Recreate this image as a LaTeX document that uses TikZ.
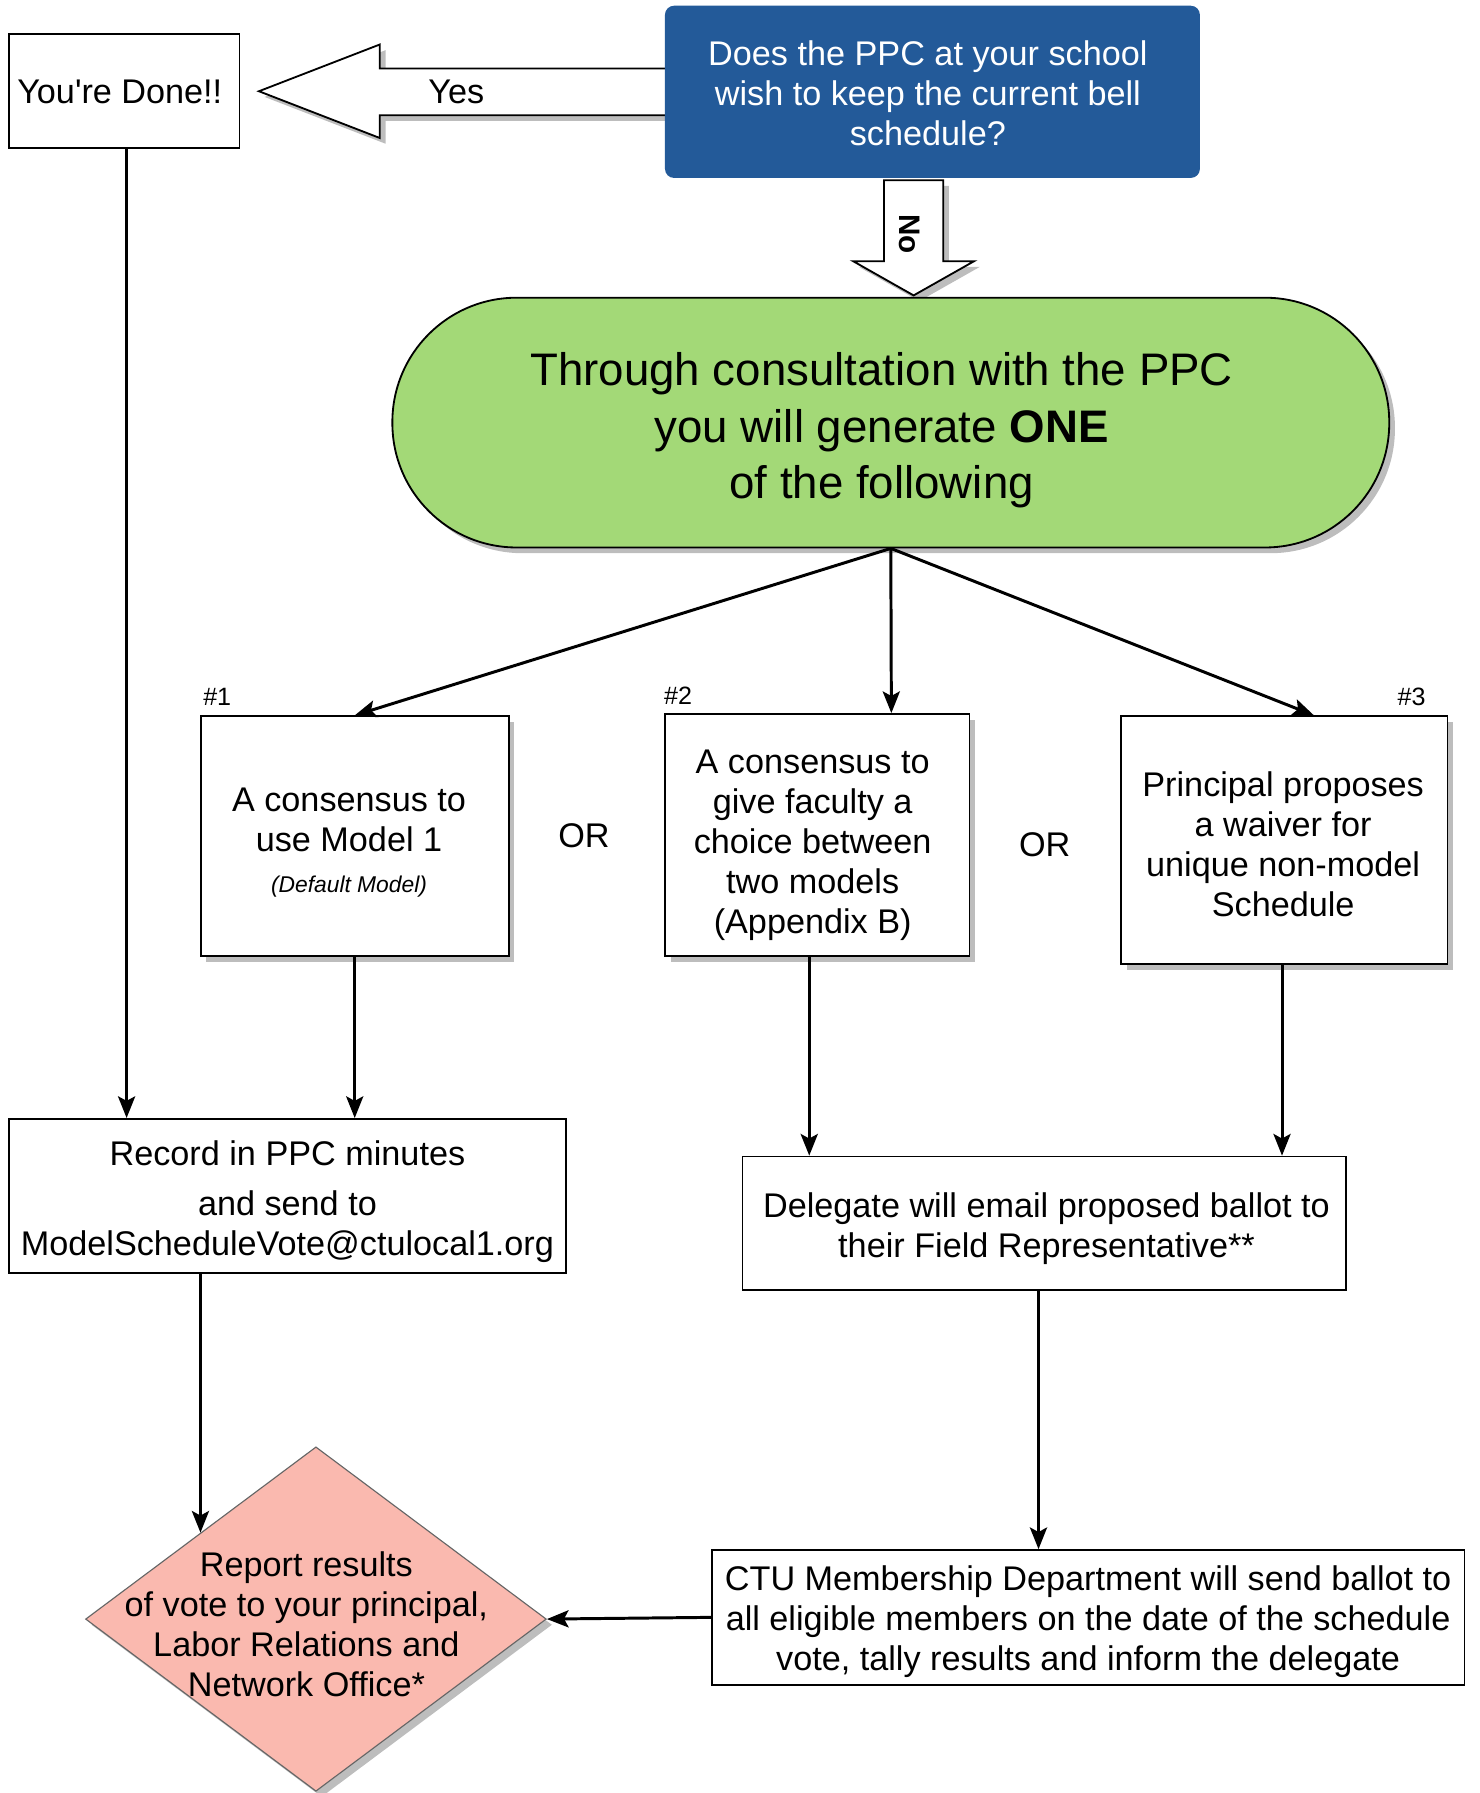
\documentclass[tikz,border=0pt]{standalone}
\usepackage{fontspec}
\setmainfont{Liberation Sans}
\newfontfamily\nomapfont{Liberation Sans}[Ligatures=TeXOff]
\usetikzlibrary{shapes.geometric,arrows.meta,shadows,calc}
\definecolor{qblue}{HTML}{235A99}
\definecolor{tgreen}{HTML}{A3D977}
\definecolor{rsalmon}{HTML}{FAB9AF}
\definecolor{shd}{HTML}{BDBDBD}
\begin{document}
\begin{tikzpicture}[x=1pt,y=-1pt,
  txt/.style={font=\fontsize{30}{35}\selectfont, align=center, inner sep=0pt},
  boxs/.style={draw, line width=1.6pt, fill=white, inner sep=0pt},
  shad/.style={drop shadow={shadow xshift=5pt, shadow yshift=-5pt, fill=shd, opacity=1}},
  conn/.style={line width=2.6pt, -{Stealth[length=19pt,width=15pt,inset=4pt]}},
  hlabel/.style={font=\fontsize{22}{26}\selectfont, inner sep=0pt},
]
\useasboundingbox (0,0) rectangle (1297,1572);

% Yes arrow (hollow block arrow)
\draw[line width=1.6pt, fill=white, shad, line join=miter]
  (595,60) -- (333,60) -- (333,39) -- (227,80) -- (333,121) -- (333,101) -- (595,101) -- cycle;

% question box
\node[fill=qblue, rounded corners=8pt, minimum width=469pt, minimum height=151pt, inner sep=0pt]
  (q) at (817.5,80.5) {};
\node[txt, text=white] (qt) at ($(q)+(-4,1.5)$) {Does the PPC at your school\\wish to keep the current bell\\schedule?};

\node[txt] (yes) at (400,81) {Yes};

% No arrow (hollow block arrow)
\draw[line width=1.6pt, fill=white, shad, line join=miter]
  (775,158) -- (827,158) -- (827,229) -- (854,229) -- (801,259) -- (748,229) -- (775,229) -- cycle;
\node[font=\fontsize{26}{30}\selectfont\bfseries, rotate=-90, inner sep=0pt] (no) at (797,205) {No};

% You're Done
\node[boxs, minimum width=202pt, minimum height=100pt] (done) at (109,80) {};
\node[txt] (donet) at ($(done)+(-4,1)$) {\nomapfont You're Done!!};

% green terminator
\node[draw, line width=1.6pt, fill=tgreen, rounded corners=109pt, minimum width=874pt,
  minimum height=219pt, inner sep=0pt, shad] (g) at (781,370.5) {};
\node[txt, font=\fontsize{40}{49.5}\selectfont] (gt) at ($(g)+(-8,7)$)
  {Through consultation with the PPC\\you will generate \textbf{ONE}\\of the following};

% three options
\node[boxs, shad, minimum width=270pt, minimum height=210pt] (box1) at (311,733) {};
\node[txt] (box1t) at ($(box1)+(-5,6)$)
  {A consensus to\\use Model 1\\[1pt]{\fontsize{20}{24}\selectfont\itshape (Default Model)}};
\node[boxs, shad, minimum width=267pt, minimum height=212pt] (box2) at (716.5,732) {};
\node[txt] (box2t) at ($(box2)+(-4,9)$)
  {A consensus to\\give faculty a\\choice between\\two models\\(Appendix B)};
\node[boxs, shad, minimum width=286pt, minimum height=217pt] (box3) at (1126,736.5) {};
\node[txt] (box3t) at ($(box3)+(-1,4)$)
  {Principal proposes\\a waiver for\\unique non-model\\Schedule};

\node[hlabel, anchor=west] (h1) at (178,611) {\#1};
\node[hlabel, anchor=west] (h2) at (582,610) {\#2};
\node[hlabel, anchor=east] (h3) at (1250,611) {\#3};

\node[txt] (or1) at (512,733) {OR};
\node[txt] (or2) at (916,741) {OR};

% record box
\node[boxs, minimum width=488pt, minimum height=135pt] (rec) at (252,1048.5) {};
\node[txt] (rect) at ($(rec)+(0,5)$)
  {Record in PPC minutes\\[9pt]and send to\\ModelScheduleVote@ctulocal1.org};

% delegate box
\node[boxs, minimum width=529pt, minimum height=117pt] (del) at (915.5,1072.5) {};
\node[txt] (delt) at ($(del)+(2,5)$)
  {Delegate will email proposed ballot to\\their Field Representative**};

% CTU box
\node[boxs, minimum width=660pt, minimum height=118pt] (ctu) at (954,1418) {};
\node[txt] (ctut) at ($(ctu)+(0,4)$)
  {CTU Membership Department will send ballot to\\all eligible members on the date of the schedule\\vote, tally results and inform the delegate};

% report diamond
\node[diamond, draw=black!60, line width=1pt, fill=rsalmon, minimum width=404pt,
  minimum height=302pt, inner sep=0pt, shad] (rep) at (277,1419.5) {};
\node[txt] (rept) at (268.6,1424)
  {Report results\\of vote to your principal,\\Labor Relations and\\Network Office*};

% connectors
\coordinate (t2) at ($(box2.north)+(65,0)$);
\coordinate (t3) at ($(box3.north)+(26,0)$);
\draw[conn] (g.south) -- (box1.north);
\draw[conn] (g.south) -- (t2);
\draw[conn] (g.south) -- (t3);

\coordinate (ds0) at ($(done.south)+(2,0)$);
\draw[conn] (ds0) -- (ds0 |- rec.north);
\draw[conn] (box1.south) -- (box1.south |- rec.north);

\coordinate (b2s) at ($(box2.south)+(-7,0)$);
\draw[conn] (b2s) -- (b2s |- del.north);
\coordinate (b3s) at ($(box3.south)+(-2,0)$);
\draw[conn] (b3s) -- (b3s |- del.north);

\coordinate (rs) at ($(rep.north)!0.5!(rep.west)$);
\draw[conn] (rec.south -| rs) -- (rs);

\coordinate (ds) at ($(del.south)+(-5,0)$);
\draw[conn] (ds) -- (ds |- ctu.north);

\draw[conn] (ctu.west) -- (rep.east);
\end{tikzpicture}
\end{document}
